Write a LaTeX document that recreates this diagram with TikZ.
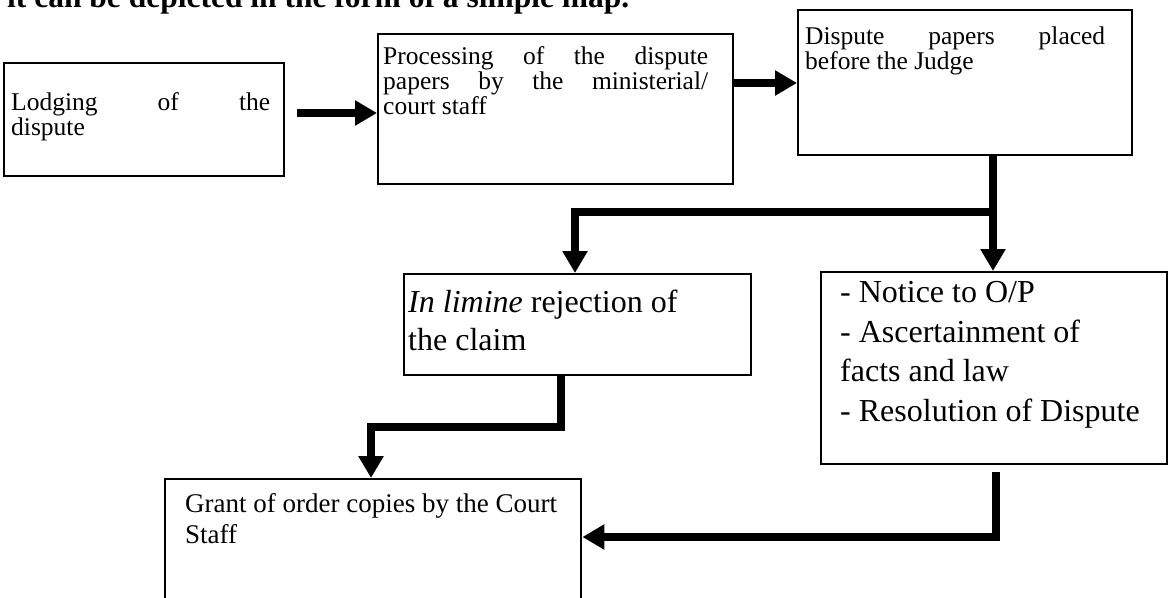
\documentclass[tikz,border=0pt]{standalone}
\usepackage{fontspec}
\setmainfont{Liberation Serif}
\usetikzlibrary{arrows.meta}
\begin{document}
\begin{tikzpicture}[x=1pt,y=-1pt,
  box/.style={draw, line width=2.4pt, inner sep=0pt, anchor=north west},
  conn/.style={line width=8pt, line join=miter, -{Triangle[width=24pt,length=22pt]}},
  upper/.style={font=\fontsize{25.5}{25}\selectfont, inner sep=0pt, anchor=base west},
  small/.style={font=\fontsize{27}{31}\selectfont, inner sep=0pt, anchor=base west},
  big/.style={font=\fontsize{32}{38}\selectfont, inner sep=0pt, anchor=base west},
  hdrfont/.style={font=\bfseries\fontsize{31.5}{32}\selectfont, inner sep=0pt, anchor=base west}
]
\useasboundingbox (0,0) rectangle (1169,597);
\clip (0,0) rectangle (1169,597);
\node[hdrfont] (hdr) at (7,8) {it can be depicted in the form of a simple map.};

% boxes
\node[box, minimum width=280pt, minimum height=113pt] (b1) at (3,62) {};
\node[box, minimum width=355pt, minimum height=150pt] (b2) at (377,33) {};
\node[box, minimum width=334pt, minimum height=145pt] (b3) at (797,9) {};
\node[box, minimum width=347pt, minimum height=101pt] (b4) at (403,273) {};
\node[box, minimum width=346pt, minimum height=192pt] (b5) at (820,271) {};
\node[box, minimum width=416pt, minimum height=160pt] (b6) at (164,478) {};

% texts
\node[upper] (t1a) at (11,110) {\makebox[259pt][s]{Lodging of the}};
\node[upper] (t1b) at (11,135) {dispute};
\node[upper] (t2a) at (383,64) {\makebox[325pt][s]{Processing of the dispute}};
\node[upper] (t2b) at (383,89) {\makebox[325pt][s]{papers by the ministerial/}};
\node[upper] (t2c) at (383,114) {court staff};
\node[upper] (t3a) at (805,44) {\makebox[300pt][s]{Dispute papers placed}};
\node[upper] (t3b) at (805,69) {before the Judge};
\node[big] (t4a) at (408,312) {\textit{In limine} rejection of};
\node[big] (t4b) at (408,350) {the claim};
\node[big] (t5a) at (840,302) {- Notice to O/P};
\node[big] (t5b) at (840,342) {- Ascertainment of};
\node[big] (t5c) at (840,381) {facts and law};
\node[big] (t5d) at (840,421) {- Resolution of Dispute};
\node[small] (t6a) at (185,512) {Grant of order copies by the Court};
\node[small] (t6b) at (185,543) {Staff};

% connectors
\coordinate (q) at (297,113);
\draw[conn] (q) -- (q -| b2.west);
\coordinate (r) at (732,83);
\draw[conn] (r -| b2.east) -- (r -| b3.west);
\coordinate (j) at (993,212);
\coordinate (k) at (575,212);
\draw[conn] (j |- b3.south) -- (j) -- (k) -- (k |- b4.north);
\draw[conn] (j) -- (j |- b5.north);
\coordinate (m) at (561,427);
\coordinate (n) at (371,427);
\draw[conn] (m |- b4.south) -- (m) -- (n) -- (n |- b6.north);
\coordinate (p) at (996,537);
\draw[conn, shorten <=7pt] (p |- b5.south) -- (p) -- (p -| b6.east);
\end{tikzpicture}
\end{document}
